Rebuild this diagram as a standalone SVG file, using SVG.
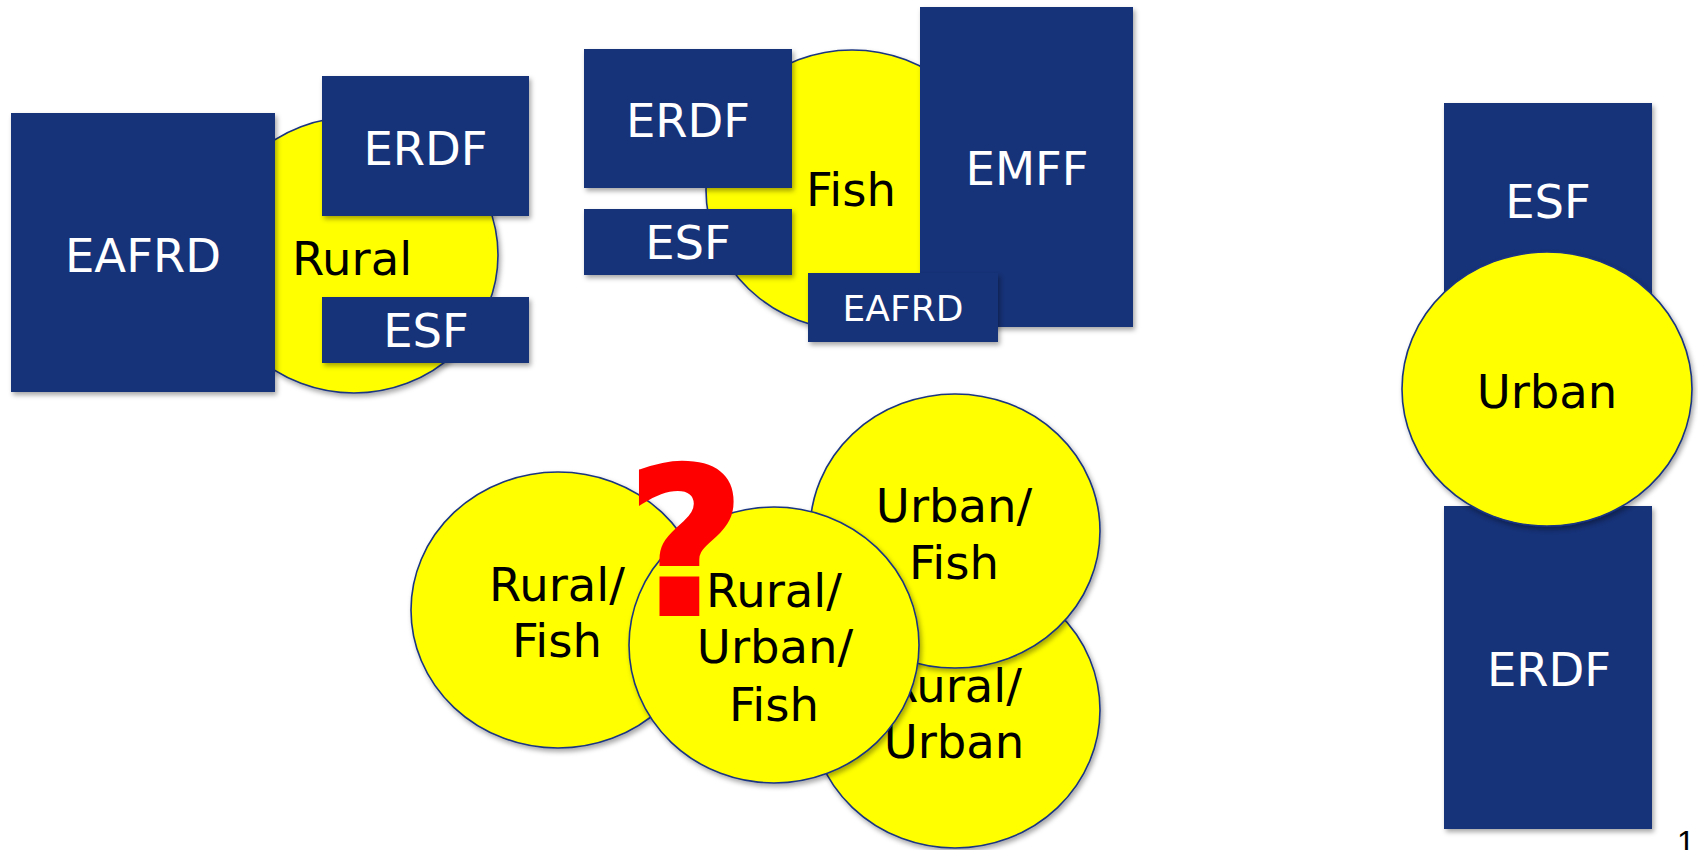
<svg xmlns="http://www.w3.org/2000/svg" width="1698" height="850" viewBox="0 0 1698 850">
<defs>
<filter id="sh" x="-10%" y="-10%" width="125%" height="125%">
<feDropShadow dx="2" dy="3" stdDeviation="2.5" flood-color="#000" flood-opacity="0.35"/>
</filter>
<style>
.box{fill:#153278;filter:url(#sh)}
.blob{fill:#ffff00;stroke:#1a3580;stroke-width:1.6;filter:url(#sh)}
.w{fill:#fff;font-family:"DejaVu Sans",Verdana,sans-serif;font-size:46.5px;text-anchor:middle}
.k{fill:#000;font-family:"DejaVu Sans",Verdana,sans-serif;font-size:46.5px;text-anchor:middle}
</style>
</defs>
<rect width="1698" height="850" fill="#fff"/>

<g id="rural-group">
<ellipse class="blob" cx="354" cy="255" rx="144" ry="138"/>
<text class="k" x="352" y="275">Rural</text>
<g id="rural-eafrd"><rect class="box" x="11" y="113" width="264" height="279"/><text class="w" x="143" y="272">EAFRD</text></g>
<g id="rural-erdf"><rect class="box" x="322" y="76" width="207" height="140"/><text class="w" x="425.5" y="165">ERDF</text></g>
<g id="rural-esf"><rect class="box" x="322" y="297" width="207" height="66"/><text class="w" x="426" y="347">ESF</text></g>
</g>

<g id="fish-group">
<ellipse class="blob" cx="852" cy="190" rx="146" ry="140"/>
<text class="k" x="851" y="206">Fish</text>
<g id="fish-erdf"><rect class="box" x="584" y="49" width="208" height="139"/><text class="w" x="688" y="137">ERDF</text></g>
<g id="fish-esf"><rect class="box" x="584" y="209" width="208" height="66"/><text class="w" x="688" y="259">ESF</text></g>
<g id="fish-emff"><rect class="box" x="920" y="7" width="213" height="320"/><text class="w" x="1027" y="185">EMFF</text></g>
<g id="fish-eafrd"><rect class="box" x="808" y="273" width="190" height="69"/><text class="w" x="903" y="321" style="font-size:36px">EAFRD</text></g>
</g>

<g id="urban-group">
<g id="urban-esf"><rect class="box" x="1444" y="103" width="208" height="240"/><text class="w" x="1548" y="218">ESF</text></g>
<g id="urban-erdf"><rect class="box" x="1444" y="506" width="208" height="323"/><text class="w" x="1549" y="686">ERDF</text></g>
<g id="urban"><ellipse class="blob" cx="1547" cy="389" rx="145" ry="137"/><text class="k" x="1547" y="408">Urban</text></g>
</g>

<g id="combinations">
<g id="rural-urban"><ellipse class="blob" cx="955" cy="710" rx="145" ry="138"/><text class="k" x="954" y="702">Rural/</text><text class="k" x="954" y="758">Urban</text></g>
<g id="urban-fish"><ellipse class="blob" cx="955" cy="531" rx="145" ry="137"/><text class="k" x="954" y="522">Urban/</text><text class="k" x="954" y="579">Fish</text></g>
<g id="rural-fish"><ellipse class="blob" cx="558" cy="610" rx="147" ry="138"/><text class="k" x="557" y="601">Rural/</text><text class="k" x="557" y="657">Fish</text></g>
<g id="rural-urban-fish"><ellipse class="blob" cx="774" cy="645" rx="145" ry="138"/><text class="k" x="774" y="607">Rural/</text><text class="k" x="775" y="663">Urban/</text><text class="k" x="774" y="721">Fish</text></g>
<g id="question"><text x="686" y="614" fill="#ff0000" stroke="#ff0000" stroke-width="4" font-family="'DejaVu Sans',Verdana,sans-serif" font-weight="bold" font-size="203" text-anchor="middle">?</text></g>
</g>

<g id="connectors"/>

<text x="1677" y="853" font-family="'Liberation Sans',Arial,sans-serif" font-size="32" fill="#000">1</text>
</svg>
